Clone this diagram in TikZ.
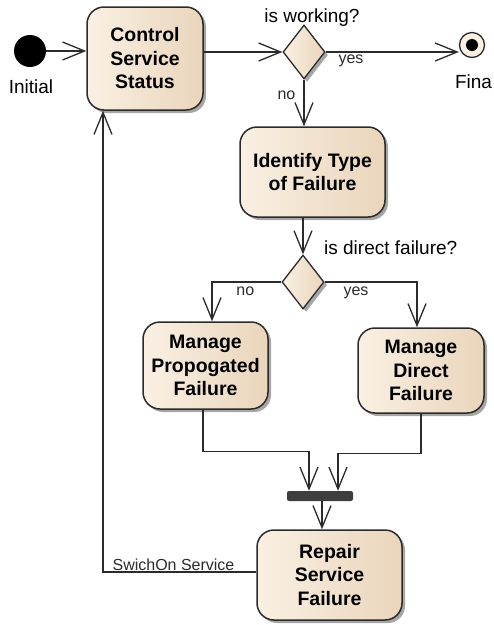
\documentclass[tikz,border=0pt]{standalone}
\usepackage{fontspec}
\setmainfont{Liberation Sans}
\usepackage{tikz}
\usetikzlibrary{arrows.meta}
\usetikzlibrary{positioning}
\usetikzlibrary{shapes.geometric}
\usetikzlibrary{shadows}
\definecolor{mybeige}{HTML}{FAF0E3}
\definecolor{mytan}{HTML}{E9D5BB}
\definecolor{myline}{HTML}{2B2B2B}
\definecolor{mybar}{HTML}{3E3E3E}
\tikzset{
  >={Straight Barb[length=22pt,width=18pt]},
  flow/.style={->, line width=1.3pt, myline},
  shade box/.style={left color=mybeige, right color=mytan,
    drop shadow={shadow xshift=3pt,shadow yshift=-3pt,opacity=0.35,fill=black}},
  action/.style={shade box, draw=myline, line width=1.5pt, rounded corners=17pt,
    align=center, inner sep=2pt, font=\fontsize{19.5}{23.5}\selectfont\bfseries},
  decision/.style={diamond, shade box, draw=myline, line width=1.3pt, aspect=0.78,
    inner sep=0pt, minimum width=42pt, minimum height=54pt},
  initial/.style={circle, fill=black, minimum size=32pt, inner sep=0pt},
  final/.style={circle, draw=myline, line width=1.3pt, fill=mybeige, minimum size=25pt, inner sep=0pt,
    path picture={\fill[black] (path picture bounding box.center) circle (6pt);}},
  joinbar/.style={rectangle, fill=mybar, rounded corners=2pt, minimum width=66pt, minimum height=10pt, inner sep=0pt},
  lbl/.style={font=\fontsize{19}{22}\selectfont, inner sep=1pt},
  elbl/.style={font=\fontsize{16}{19}\selectfont, inner sep=1pt}
}

\begin{document}
\begin{tikzpicture}[x=1pt, y=-1pt]
	\useasboundingbox (0,0) rectangle (494,625);

	% top row
	\node[initial] (init) at (30,51) {};
	\node[lbl] (initlbl) at (31,87) {Initial};
	\node[action, minimum width=116pt, minimum height=103pt] (ctrl) at (145,58.5) {Control\\Service\\Status};
	\node[decision] (work) at (304,52) {};
	\node[lbl] (worklbl) at (312,18) {is working?};
	\node[final] (fin) at (472,45) {};
	\node[lbl] (finlbl) at (473.5,82) {Fina};

	% failure handling
	\node[action, minimum width=145pt, minimum height=90pt] (ident) at (312.5,172) {Identify Type\\of Failure};
	\node[decision] (direct) at (303,282) {};
	\node[lbl, anchor=west] (directlbl) at (323,248) {is direct failure?};
	\node[action, minimum width=125pt, minimum height=87pt] (prop) at (205.5,365.5) {Manage\\Propogated\\Failure};
	\node[action, minimum width=126pt, minimum height=85pt] (dir) at (421,370.5) {Manage\\Direct\\Failure};
	\node[joinbar] (join) at (320,496) {};
	\node[action, minimum width=145pt, minimum height=90pt] (rep) at (329.5,575) {Repair\\Service\\Failure};

	\draw[flow] (init.east) -- (init -| ctrl.west);
	\draw[flow] (ctrl.east |- work) -- (work.west);
	\draw[flow] (work.east) -- (work -| fin.west) node[elbl, pos=0.19, below=1pt] {yes};
	\draw[flow] (work.south) -- (work |- ident.north) node[elbl, pos=0.33, left=7pt] {no};
	\draw[flow] (ident.south -| direct) -- (direct.north);

	\draw[flow] (direct.west) -| ([xshift=6.5pt]prop.north) node[elbl, pos=0.26, below=3pt] {no};
	\draw[flow] (direct.east) -| ([xshift=-4pt]dir.north) node[elbl, pos=0.17, below=3pt] {yes};

	\draw[flow] ([xshift=-2.5pt]prop.south) -- ++(0,42) -| ([xshift=-11pt]join.north);
	\draw[flow] (dir.south) -- ++(0,40) -| ([xshift=18pt]join.north);
	\draw[flow] ([xshift=2pt]join.south) -- ([xshift=2pt]join.south |- rep.north);

	% back to the start
	\draw[flow] ([yshift=3pt]rep.west) -| ([xshift=-42pt]ctrl.south) node[elbl, pos=0.27, above] {SwichOn Service};
\end{tikzpicture}
\end{document}
